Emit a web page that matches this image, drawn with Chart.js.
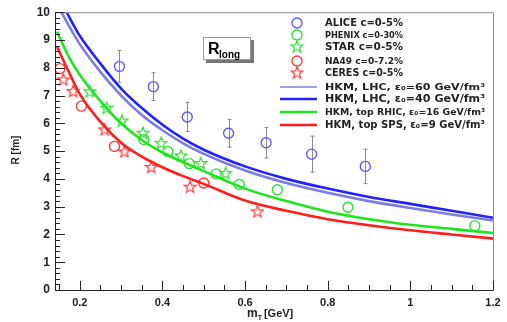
<!DOCTYPE html>
<html>
<head>
<meta charset="utf-8">
<script src="https://cdn.jsdelivr.net/npm/chart.js@4.4.1/dist/chart.umd.min.js"></script>
<style>
html,body{margin:0;padding:0;background:#fff;}
#wrap{width:507px;height:322px;}
</style>
</head>
<body>
<div id="wrap"><canvas id="chart" width="507" height="322"></canvas></div>
<script>
/* Axis ticks */
const xTicks=[0.2,0.4,0.6,0.8,1,1.2];
const xTickLabels=["0.2","0.4","0.6","0.8","1","1.2"];
const yTicks=[0,1,2,3,4,5,6,7,8,9,10];

/* Data points */
const aliceX=[0.296,0.378,0.460,0.560,0.651,0.761,0.891];
const aliceY=[8.05,7.32,6.23,5.64,5.30,4.89,4.45];
const aliceErr=[0.57,0.50,0.52,0.50,0.55,0.65,0.62];

const phenixX=[0.355,0.413,0.465,0.530,0.586,0.678,0.849,1.156];
const phenixY=[5.42,4.99,4.55,4.18,3.80,3.61,2.98,2.31];

const starX=[0.224,0.265,0.302,0.353,0.397,0.445,0.493,0.553];
const starY=[7.15,6.56,6.10,5.66,5.30,4.84,4.57,4.21];

const na49X=[0.152,0.204,0.284,0.500];
const na49Y=[7.97,6.62,5.17,3.85];

const ceresX=[0.160,0.184,0.260,0.308,0.373,0.467,0.630];
const ceresY=[7.58,7.16,5.78,4.99,4.43,3.72,2.83];

/* HKM curves */
const lhc60X=[0.155,0.2,0.25,0.3,0.35,0.4,0.45,0.5,0.6,0.7,0.8,0.9,1.0,1.1,1.2];
const lhc60Y=[10,8.85,7.85,7.0,6.3,5.75,5.28,4.9,4.3,3.85,3.5,3.2,2.95,2.72,2.5];

const lhc40X=[0.168,0.2,0.25,0.3,0.35,0.4,0.45,0.5,0.6,0.7,0.8,0.9,1.0,1.1,1.2];
const lhc40Y=[10,9.15,8.15,7.25,6.55,5.95,5.45,5.05,4.45,4.0,3.65,3.35,3.1,2.85,2.6];

const rhicX=[0.145,0.175,0.2,0.25,0.3,0.35,0.4,0.45,0.5,0.6,0.7,0.8,0.9,1.0,1.1,1.2];
const rhicY=[9.3,8.35,7.75,6.8,6.0,5.4,4.95,4.6,4.28,3.65,3.2,2.82,2.55,2.35,2.2,2.05];

const spsX=[0.145,0.175,0.2,0.25,0.3,0.35,0.4,0.45,0.5,0.6,0.7,0.8,0.9,1.0,1.1,1.2];
const spsY=[8.75,7.8,7.05,6.05,5.3,4.8,4.42,4.1,3.82,3.22,2.85,2.55,2.33,2.15,2.0,1.85];

/* Legend */
const legendLabels=["ALICE c=0-5%","PHENIX c=0-30%","STAR c=0-5%","NA49 c=0-7.2%","CERES c=0-5%",
"HKM, LHC, \u03B5\u2080=60 GeV/fm\u00B3","HKM, LHC, \u03B5\u2080=40 GeV/fm\u00B3",
"HKM, top RHIC, \u03B5\u2080=16 GeV/fm\u00B3","HKM, top SPS, \u03B5\u2080=9 GeV/fm\u00B3"];

const pts=(xs,ys)=>xs.map((x,i)=>({x:x,y:ys[i]}));

/* open star marker */
function makeStar(color){
const c=document.createElement("canvas");
c.width=14;c.height=14;
const g=c.getContext("2d");
g.strokeStyle=color;g.lineWidth=1.2;
g.beginPath();
for(let i=0;i<10;i++){
const r=(i%2==0)?6.2:2.6;
const a=-Math.PI/2+i*Math.PI/5;
const px=7+r*Math.cos(a),py=7.5+r*Math.sin(a);
if(i==0)g.moveTo(px,py);else g.lineTo(px,py);
}
g.closePath();g.stroke();
return c;
}

const blueM="#5a5aff",greenM="#33dd33",redM="#ff3b3b";
const starGreen=makeStar(greenM);
const starRed=makeStar(redM);

function markerSet(label,data,color,style){
return{type:"scatter",label:label,data:data,pointStyle:style,pointRadius:5,
borderColor:color,backgroundColor:"rgba(0,0,0,0)",pointBorderWidth:1.4,showLine:false};
}
function lineSet(label,data,color,w){
return{type:"line",label:label,data:data,borderColor:color,borderWidth:w,pointRadius:0,
fill:false,tension:0.4,cubicInterpolationMode:"monotone"};
}

const datasets=[
lineSet(legendLabels[8],pts(spsX,spsY),"#ff1e1e",2.6),
lineSet(legendLabels[7],pts(rhicX,rhicY),"#1ee61e",2.6),
lineSet(legendLabels[5],pts(lhc60X,lhc60Y),"#7c7ce6",2.6),
lineSet(legendLabels[6],pts(lhc40X,lhc40Y),"#2222ff",2.6),
markerSet(legendLabels[0],pts(aliceX,aliceY),blueM,"circle"),
markerSet(legendLabels[1],pts(phenixX,phenixY),greenM,"circle"),
markerSet(legendLabels[2],pts(starX,starY),greenM,starGreen),
markerSet(legendLabels[3],pts(na49X,na49Y),redM,"circle"),
markerSet(legendLabels[4],pts(ceresX,ceresY),redM,starRed)
];

/* Decorations: error bars, ticks, frame, legend, label box */
const decor={
id:"decor",
beforeDatasetsDraw(chart){
const ctx=chart.ctx,xs=chart.scales.x,ys=chart.scales.y;
ctx.save();
ctx.strokeStyle="#8a8a8a";ctx.lineWidth=1;
aliceX.forEach((x,i)=>{
const px=Math.round(xs.getPixelForValue(x))+0.5;
const t=ys.getPixelForValue(aliceY[i]+aliceErr[i]);
const b=ys.getPixelForValue(aliceY[i]-aliceErr[i]);
ctx.beginPath();
ctx.moveTo(px,t);ctx.lineTo(px,b);
ctx.moveTo(px-2,t);ctx.lineTo(px+2,t);
ctx.moveTo(px-2,b);ctx.lineTo(px+2,b);
ctx.stroke();
});
ctx.restore();
},
afterDraw(chart){
const ctx=chart.ctx,a=chart.chartArea,xs=chart.scales.x,ys=chart.scales.y;
ctx.save();
/* frame */
ctx.lineWidth=1;
ctx.strokeStyle="#8c8c8c";
ctx.beginPath();
ctx.moveTo(a.left,a.top+0.5);ctx.lineTo(a.right+0.5,a.top+0.5);ctx.lineTo(a.right+0.5,a.bottom);
ctx.stroke();
ctx.strokeStyle="#222";
ctx.beginPath();
ctx.moveTo(a.left+0.5,a.top);ctx.lineTo(a.left+0.5,a.bottom+0.5);ctx.lineTo(a.right+0.5,a.bottom+0.5);
ctx.stroke();
/* y ticks */
ctx.beginPath();
for(let v=0;v<=10.001;v+=0.2){
const py=Math.round(ys.getPixelForValue(v))+0.5;
const major=Math.abs(v-Math.round(v))<0.01;
ctx.moveTo(a.left,py);ctx.lineTo(a.left+(major?10:5),py);
}
/* x ticks */
for(let v=0.15;v<=1.2001;v+=0.05){
const px=Math.round(xs.getPixelForValue(v))+0.5;
const major=xTicks.some(t=>Math.abs(t-v)<0.001);
ctx.moveTo(px,a.bottom);ctx.lineTo(px,a.bottom-(major?9:5));
}
ctx.stroke();

/* axis titles */
ctx.fillStyle="#222";
ctx.font="bold 10px 'Liberation Sans', Arial";
ctx.save();
ctx.translate(16,150);
ctx.rotate(-Math.PI/2);
ctx.textAlign="center";ctx.textBaseline="middle";
ctx.fillText("R [fm]",0,0);
ctx.restore();
ctx.textBaseline="alphabetic";ctx.textAlign="left";
ctx.font="bold 12px 'Liberation Sans', Arial";
let tx=247;
ctx.fillText("m",tx,317);tx+=ctx.measureText("m").width;
ctx.font="bold 7px 'Liberation Sans', Arial";
ctx.fillText("T",tx,320);tx+=ctx.measureText("T").width+2;
ctx.font="bold 11px 'Liberation Sans', Arial";
ctx.fillText("[GeV]",tx,317);

/* R_long box */
ctx.fillStyle="#777";
ctx.fillRect(206,40,48,23);
ctx.fillStyle="#fff";
ctx.fillRect(203,37,48,23);
ctx.strokeStyle="#999";
ctx.strokeRect(203.5,37.5,47,22);
ctx.fillStyle="#000";
ctx.font="bold 16px 'Liberation Sans', Arial";
ctx.fillText("R",208,54);
ctx.font="bold 10px 'Liberation Sans', Arial";
ctx.fillText("long",219,58);

/* legend */
const rowY=[23,35,47,61,73,87,99,112,125];
const mx=297,txl=325;
ctx.textBaseline="middle";
const legendStyles=[datasets[4],datasets[5],datasets[6],datasets[7],datasets[8]];
legendStyles.forEach((d,i)=>{
const y=rowY[i];
if(d.pointStyle==="circle"){
ctx.strokeStyle=d.borderColor;ctx.lineWidth=1.4;
ctx.beginPath();ctx.arc(mx,y,5,0,Math.PI*2);ctx.stroke();
}else{
ctx.drawImage(d.pointStyle,mx-7,y-7.5);
}
});
const lineStyles=[datasets[2],datasets[3],datasets[1],datasets[0]];
const lineW=[1.5,2.4,2.4,2.4];
lineStyles.forEach((d,i)=>{
const y=rowY[5+i];
ctx.strokeStyle=d.borderColor;ctx.lineWidth=lineW[i];
ctx.beginPath();ctx.moveTo(280,y);ctx.lineTo(317,y);ctx.stroke();
});
/* ROOT squeezes each entry to the same width */
const rowFont=[10,8,10,8,10,8.5,10,8.5,10];
ctx.fillStyle="#222";
legendLabels.forEach((t,i)=>{
ctx.font="bold "+rowFont[i]+"px 'DejaVu Sans', Arial";
const target=(i<5)?78:160;
const w=ctx.measureText(t).width;
ctx.save();
ctx.translate(txl,rowY[i]+0.5);
ctx.scale(target/w,1);
ctx.fillText(t,0,0);
ctx.restore();
});
ctx.restore();
}
};

new Chart(document.getElementById("chart"),{
data:{datasets:datasets},
options:{
responsive:false,
animation:false,
layout:{padding:{left:0,top:12,right:14,bottom:0}},
plugins:{legend:{display:false},tooltip:{enabled:false}},
scales:{
x:{
type:"linear",min:0.14,max:1.2,
afterBuildTicks:s=>{s.ticks=xTicks.map(v=>({value:v}));},
afterFit:s=>{s.height=32;},
grid:{display:false,drawTicks:false},
border:{display:false},
ticks:{padding:6,color:"#222",font:{family:"'Liberation Sans', Arial",size:11,weight:"bold"},
callback:(v)=>xTickLabels[xTicks.indexOf(v)]??""}
},
y:{
type:"linear",min:0,max:10,
afterBuildTicks:s=>{s.ticks=yTicks.map(v=>({value:v}));},
afterFit:s=>{s.width=55;},
grid:{display:false,drawTicks:false},
border:{display:false},
ticks:{padding:5,color:"#222",font:{family:"'Liberation Sans', Arial",size:12,weight:"bold"}}
}
}
},
plugins:[decor]
});
</script>
</body>
</html>
